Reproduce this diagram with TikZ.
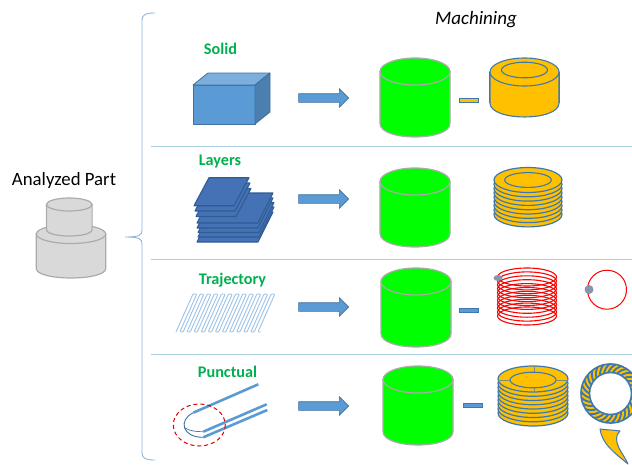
\documentclass[tikz,border=0pt]{standalone}
\usepackage{fontspec}
\setmainfont{Carlito}
\usetikzlibrary{shapes.arrows}
\definecolor{bluefill}{HTML}{5B9BD5}
\definecolor{bluedark}{HTML}{41719C}
\definecolor{sepblue}{HTML}{A9CFE3}
\definecolor{bracecol}{HTML}{8DB8E0}
\definecolor{orangefill}{HTML}{FFC000}
\definecolor{ringline}{HTML}{3F78AD}
\definecolor{labelgreen}{HTML}{00B050}
\definecolor{partgray}{HTML}{D9D9D9}
\definecolor{partline}{HTML}{ABABAB}
\definecolor{dotgray}{HTML}{8497B0}
\definecolor{puregreen}{HTML}{00FF00}
\definecolor{platefill}{HTML}{4472B4}
\definecolor{plateline}{HTML}{2F5C94}
\definecolor{trajcol}{HTML}{9DC3E6}
\tikzset{
  x=1pt,y=-1pt,
  sectionlabel/.style={font=\bfseries\fontsize{16.2}{18}\selectfont,text=labelgreen,inner sep=0pt},
  blockarrow/.style={single arrow,draw=bluedark,fill=bluefill,line width=.6pt,minimum width=18pt,minimum height=50pt,
    single arrow head extend=5pt,single arrow tip angle=90,inner xsep=0pt,inner ysep=4pt},
  minusbar/.style={draw=ringline,line width=1pt,minimum width=19pt,minimum height=4pt,inner sep=0pt},
  separator/.style={draw=sepblue,line width=1pt},
  plate/.style={fill=platefill,draw=plateline,line width=1.1pt,line join=round},
  disc/.style={fill=orangefill,draw=ringline,line width=1.2pt},
  coil/.style={draw=red,line width=1.1pt},
  probe/.style={draw=bluefill,line width=2.6pt},
}
% cx, top-centre y, bottom-centre y, rx, ry, fill, line, width
\newcommand{\cylshape}[8]{%
  \draw[fill=#6,draw=#7,line width=#8pt]
    ({#1-#4},#2) -- ({#1-#4},#3)
    .. controls ({#1-#4},{#3+1.33*#5}) and ({#1+#4},{#3+1.33*#5}) .. ({#1+#4},#3)
    -- ({#1+#4},#2) -- cycle;
  \draw[fill=#6,draw=#7,line width=#8pt] (#1,#2) ellipse [x radius=#4,y radius=#5];
}
\newcommand{\greencyl}[2]{\cylshape{#1}{#2}{#2+52}{35}{13.5}{puregreen}{partline}{1.2}}
% cx, top y, spacing, rx, ry, count-1
\newcommand{\discstack}[6]{%
  \foreach \k in {#6,...,0}{\draw[disc] (#1,{#2+\k*#3}) ellipse [x radius=#4,y radius=#5];}
}
\newcommand{\plateat}[5]{% bottom-left x,y, width, height, skew
  \draw[plate] (#1,#2) -- ({#1+#3},#2) -- ({#1+#3+#5},{#2-#4}) -- ({#1+#5},{#2-#4}) -- cycle;
}
\begin{document}
\begin{tikzpicture}
\useasboundingbox (0,0) rectangle (632,464);
\clip (0,0) rectangle (632,464);
\fill[white] (0,0) rectangle (632,464);

% analyzed part
\node[font=\fontsize{18.8}{20}\selectfont,inner sep=0pt] (part) at (64,180) {Analyzed Part};
\cylshape{71}{234}{268.5}{34.7}{9.5}{partgray}{partline}{1.2}
\cylshape{69.3}{204.5}{229.5}{22.8}{6.5}{partgray}{partline}{1.2}

% brace
\coordinate (bracetip) at (125,237);
\draw[draw=bracecol,line width=.9pt] (155,13) .. controls (147,13) and (142,14) .. (142,20)
  -- (142,230) .. controls (142,235) and (140,237) .. (bracetip)
  .. controls (140,237) and (142,239) .. (142,244)
  -- (142,453) .. controls (142,459) and (147,460) .. (155,460);

% separators
\draw[separator] (151,146) -- (632,146);
\draw[separator] (151,259) -- (632,259);
\draw[separator] (151,354.5) -- (632,354.5);

% labels
\node[font=\itshape\fontsize{19}{21}\selectfont,inner sep=0pt] (mach) at (476,20) {Machining};
\node[sectionlabel] (solid) at (220.5,49) {Solid};
\node[sectionlabel] (layers) at (220,162) {Layers};
\node[sectionlabel] (traj) at (232.5,280) {Trajectory};
\node[sectionlabel] (punct) at (227.5,372) {Punctual};

% solid box
\draw[fill=bluefill,draw=bluedark,line width=.8pt,line join=round] (193,85) rectangle (255,124);
\draw[fill=bluefill!80!white,draw=bluedark,line width=.8pt,line join=round] (193,85) -- (208,73) -- (270,73) -- (255,85) -- cycle;
\draw[fill=bluefill!82!black,draw=bluedark,line width=.8pt,line join=round] (255,85) -- (270,73) -- (270,112) -- (255,124) -- cycle;

% layers
\plateat{197}{242}{61}{30}{15}
\plateat{198}{237}{61}{30}{15}
\plateat{198}{232.5}{61}{30}{15}
\plateat{197}{228}{61}{30}{15}
\plateat{197}{223}{61}{30}{15}
\plateat{196}{216.5}{40}{28}{15}
\plateat{195}{211}{40}{28}{15}
\plateat{194}{205.7}{40}{28}{15}

% trajectory
\draw[draw=trajcol,line width=.9pt,rounded corners=1pt]
  (176,332) \foreach \n in {0,...,11}{
    -- ({193+\n*7.1},294) -- ({196.8+\n*7.1},294) -- ({179.8+\n*7.1},332) -- ({183.1+\n*7.1},332)
  };

% punctual
\draw[draw=bluedark,line width=.9pt] (193.3,412.7) .. controls (178,420) and (182,437.5) .. (203.3,437.3);
\draw[draw=bluedark,line width=.7pt] (185,428) .. controls (190,431) and (196,431.7) .. (203.3,431.7);
\draw[probe] (193.3,412.7) -- (258.3,384.3);
\draw[probe] (203.3,431.7) -- (266.7,404.3);
\draw[probe] (203.3,437.3) -- (267.3,410);
\draw[draw=red!85!black,line width=1pt,dash pattern=on 4pt off 3pt] (199.3,425) ellipse [x radius=26,y radius=21];

% block arrows
\node[blockarrow] (a1) at (321.5,98) {};
\node[blockarrow] (a2) at (321.5,199) {};
\node[blockarrow] (a3) at (321.5,307) {};
\node[blockarrow] (a4) at (321.5,406) {};

% stock
\greencyl{415}{71.5}
\greencyl{415}{181.5}
\greencyl{416}{281.5}
\greencyl{418}{379.5}

% minus bars
\node[minusbar,fill=orangefill] (m1) at (468.5,100) {};
\node[minusbar,fill=bluefill] (m3) at (469,310) {};
\node[minusbar,fill=bluefill] (m4) at (473,405) {};

% solid result
\draw[draw=ringline,line width=2.2pt] (490,72) -- (490,103);
\draw[draw=ringline,line width=2.2pt] (559,72) -- (559,103);
\cylshape{524.5}{72}{103}{34.5}{14}{orangefill}{ringline}{1.1}
\draw[draw=ringline,line width=1.1pt] (524.5,70) ellipse [x radius=23,y radius=7.8];

% layers result
\discstack{528}{180}{4.3}{34}{12.5}{8}
\draw[draw=ringline,line width=1.1pt] (528,180) ellipse [x radius=23.3,y radius=7.4];

% trajectory result
\foreach \k in {0,...,10}{\draw[coil] (527,{277+\k*3.9}) ellipse [x radius=29.5,y radius=9];}
\fill[dotgray] (498,278) ellipse [x radius=4.5,y radius=3];
\draw[draw=red,line width=1pt] (607,289.7) circle [radius=19.5];
\fill[dotgray] (589,289.5) circle [radius=4.5];

% point result
\discstack{533}{379}{4.25}{35}{13}{8}
\draw[draw=ringline,line width=1.1pt] (533,380) ellipse [x radius=23,y radius=7.8];
\draw[draw=ringline!70!orangefill,line width=.5pt] (534,366) -- (534,372.2) (534,387.8) -- (534,392) (498,380) -- (510,380) (556,380) -- (568,380);

% turbine ring
\draw[fill=orangefill,draw=ringline,line width=1.6pt,even odd rule] (610.5,393.5) circle [radius=29.5] (610.5,393.5) circle [radius=21];
\foreach \a in {0,12,...,348}{
  \draw[draw=ringline,line width=1.9pt] ({610.5+21*cos(\a)},{393.5+21*sin(\a)}) to[bend left=18] ({610.5+29.5*cos(\a+16)},{393.5+29.5*sin(\a+16)});
}

% blade
\draw[fill=orangefill,draw=ringline,line width=1pt,line join=round] (600,429) .. controls (607,430) and (614,430) .. (620,431)
  .. controls (615,435) and (616,442) .. (619,448) .. controls (622,454) and (626,459) .. (628,464)
  .. controls (622,459) and (614,453) .. (608,446) .. controls (603,440) and (601,435) .. (600,429) -- cycle;
\end{tikzpicture}
\end{document}
